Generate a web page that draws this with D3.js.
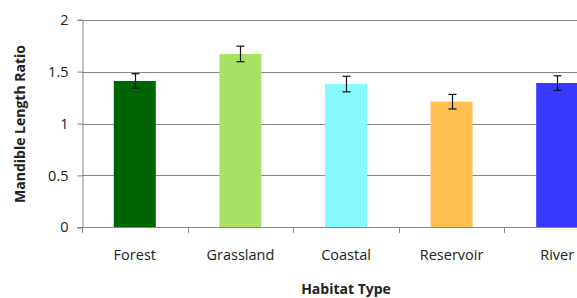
<!DOCTYPE html>
<html>
<head>
<meta charset="utf-8">
<script src="https://cdn.jsdelivr.net/npm/d3@7"></script>
<style>
  body { margin: 0; background: #fff; }
  svg { display: block; font-family: "Open Sans", Lato, sans-serif; }
</style>
</head>
<body>
<div id="chart"></div>
<script>
// habitat categories and their mean ratio + error
var habitats = ['Forest', 'Grassland', 'Coastal', 'Reservoir', 'River']
var ratios = [1.41, 1.67, 1.38, 1.21, 1.39]
var errors = [0.07, 0.075, 0.075, 0.07, 0.07]
var colors = ['#006400', '#a9e164', '#88fafe', '#ffbf4e', '#3838ff']
var yTicks = [0, 0.5, 1, 1.5, 2]

var W = 577, H = 298
var plotLeft = 82, plotRight = 610, plotTop = 19.7, plotBottom = 227.3

var svg = d3.select('#chart')
  .append('svg')
  .attr('width', W)
  .attr('height', H)

var x = d3.scaleBand()
  .domain(habitats)
  .range([plotLeft, plotRight])

var y = d3.scaleLinear()
  .domain([0, 2])
  .range([plotBottom, plotTop])

// gridlines
svg.append('g')
  .selectAll('line')
  .data(yTicks.slice(1))
  .join('line')
  .attr('x1', plotLeft)
  .attr('x2', plotRight)
  .attr('y1', d => Math.round(y(d)) + 0.5)
  .attr('y2', d => Math.round(y(d)) + 0.5)
  .attr('stroke', '#888')
  .attr('stroke-width', 1)

// bars
var barW = 42
svg.append('g')
  .selectAll('rect')
  .data(habitats)
  .join('rect')
  .attr('x', d => x(d) + x.bandwidth() / 2 - barW / 2)
  .attr('width', barW)
  .attr('y', (d, i) => y(ratios[i]))
  .attr('height', (d, i) => y(0) - y(ratios[i]))
  .attr('fill', (d, i) => colors[i])

// error bars
var err = svg.append('g')
  .attr('stroke', '#111')
  .attr('stroke-width', 1.2)
habitats.forEach(function (h, i) {
  var cx = Math.round(x(h) + x.bandwidth() / 2) + 0.5
  var hi = y(ratios[i] + errors[i])
  var lo = y(ratios[i] - errors[i])
  err.append('line').attr('x1', cx).attr('x2', cx).attr('y1', hi).attr('y2', lo)
  err.append('line').attr('x1', cx - 4).attr('x2', cx + 4).attr('y1', hi).attr('y2', hi)
  err.append('line').attr('x1', cx - 4).attr('x2', cx + 4).attr('y1', lo).attr('y2', lo)
})

// y axis
var yAxis = svg.append('g')
  .attr('transform', 'translate(' + (plotLeft + 0.5) + ',0)')
  .call(d3.axisLeft(y).tickValues(yTicks).tickSize(5).tickPadding(9)
    .tickFormat(d => d))
yAxis.select('.domain').attr('stroke', '#888')
yAxis.selectAll('.tick line').attr('stroke', '#888')
yAxis.selectAll('text')
  .attr('font-size', 14.5)
  .attr('fill', '#222')
  .attr('font-family', '"Open Sans", sans-serif')

// x axis with ticks on band boundaries
var xAxisG = svg.append('g')
xAxisG.append('line')
  .attr('x1', plotLeft - 5)
  .attr('x2', plotRight)
  .attr('y1', Math.round(plotBottom) + 0.5)
  .attr('y2', Math.round(plotBottom) + 0.5)
  .attr('stroke', '#888')
xAxisG.selectAll('.bt')
  .data(habitats)
  .join('line')
  .attr('class', 'bt')
  .attr('x1', d => Math.round(x(d)) + 0.5)
  .attr('x2', d => Math.round(x(d)) + 0.5)
  .attr('y1', Math.round(plotBottom))
  .attr('y2', Math.round(plotBottom) + 6)
  .attr('stroke', '#888')
xAxisG.selectAll('text')
  .data(habitats)
  .join('text')
  .attr('x', d => x(d) + x.bandwidth() / 2)
  .attr('y', 260)
  .attr('text-anchor', 'middle')
  .attr('font-size', 14.5)
  .attr('fill', '#222')
  .text(d => d)

// axis titles
svg.append('text')
  .attr('x', (plotLeft + plotRight) / 2)
  .attr('y', 294)
  .attr('text-anchor', 'middle')
  .attr('font-size', 14)
  .attr('font-weight', 'bold')
  .attr('fill', '#222')
  .text('Habitat Type')

svg.append('text')
  .attr('transform', 'translate(25,124) rotate(-90)')
  .attr('text-anchor', 'middle')
  .attr('font-size', 14)
  .attr('font-weight', 'bold')
  .attr('fill', '#222')
  .text('Mandible Length Ratio')
</script>
</body>
</html>
